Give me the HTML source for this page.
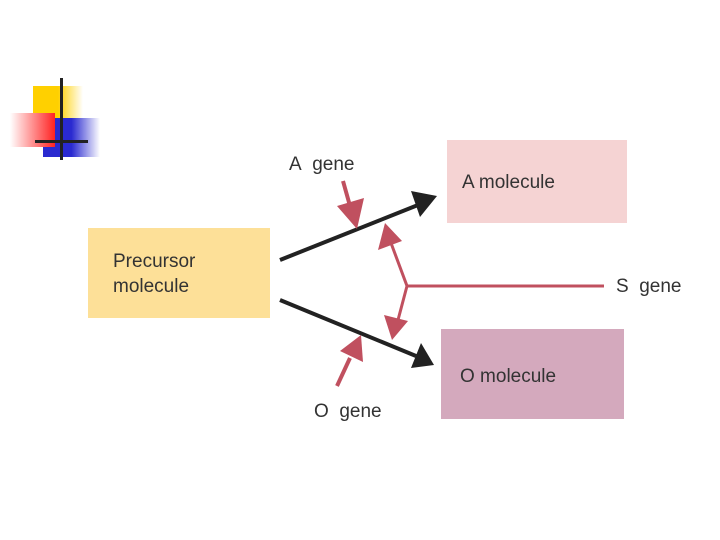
<!DOCTYPE html><html><head><style>body{margin:0;width:720px;height:540px;background:#fff;position:relative;overflow:hidden;font-family:"Liberation Sans",sans-serif}
.b{position:absolute}.t{position:absolute;font-size:19px;color:#333}</style></head><body>
<div class="b" style="left:33px;top:86px;width:50px;height:44px;background:linear-gradient(90deg,#ffd000 50%,#fff)"></div>
<div class="b" style="left:43px;top:118px;width:57px;height:39px;background:linear-gradient(90deg,#2a2ad0 50%,#fff)"></div>
<div class="b" style="left:10px;top:113px;width:45px;height:34px;background:linear-gradient(90deg,#fff,#f22)"></div>
<div class="b" style="left:60px;top:78px;width:3px;height:82px;background:#222"></div>
<div class="b" style="left:35px;top:140px;width:53px;height:3px;background:#222"></div>
<div class="b" style="left:88px;top:228px;width:182px;height:90px;background:#fde098"></div>
<div class="b" style="left:447px;top:140px;width:180px;height:83px;background:#f5d3d3"></div>
<div class="b" style="left:441px;top:329px;width:183px;height:90px;background:#d4a9bd"></div>
<div class="t" style="left:113px;top:249px;line-height:25px">Precursor<br>molecule</div>
<div class="t" style="left:462px;top:172px">A molecule</div>
<div class="t" style="left:460px;top:366px">O molecule</div>
<div class="t" style="left:289px;top:154px">A&nbsp; gene</div>
<div class="t" style="left:314px;top:401px">O&nbsp; gene</div>
<div class="t" style="left:616px;top:276px">S&nbsp; gene</div>
<svg class="b" style="left:0;top:0" width="720" height="540">
<g stroke="#222" stroke-width="4" fill="#222">
<line x1="280" y1="260" x2="418" y2="205"/><polygon points="437,196 411,191 420,217" stroke="none"/>
<line x1="280" y1="300" x2="416" y2="356"/><polygon points="434,365 421,343 411,368" stroke="none"/>
<line x1="280" y1="300" x2="280" y2="300"/>
</g>
<g stroke="#c0505f" stroke-width="4" fill="#c0505f">
<line x1="343" y1="181" x2="350" y2="206"/><polygon points="357,229 337,206 364,198" stroke="none"/>
<line x1="337" y1="386" x2="350" y2="358"/><polygon points="361,335 340,351 363,362" stroke="none"/>
<line x1="604" y1="286" x2="407" y2="286" stroke-width="3"/>
<polyline points="391,243 407,286 398,320" fill="none" stroke-width="3"/>
<polygon points="385,223 378,250 402,241" stroke="none"/>
<polygon points="392,340 384,315 408,321" stroke="none"/>
</g></svg>
</body></html>
